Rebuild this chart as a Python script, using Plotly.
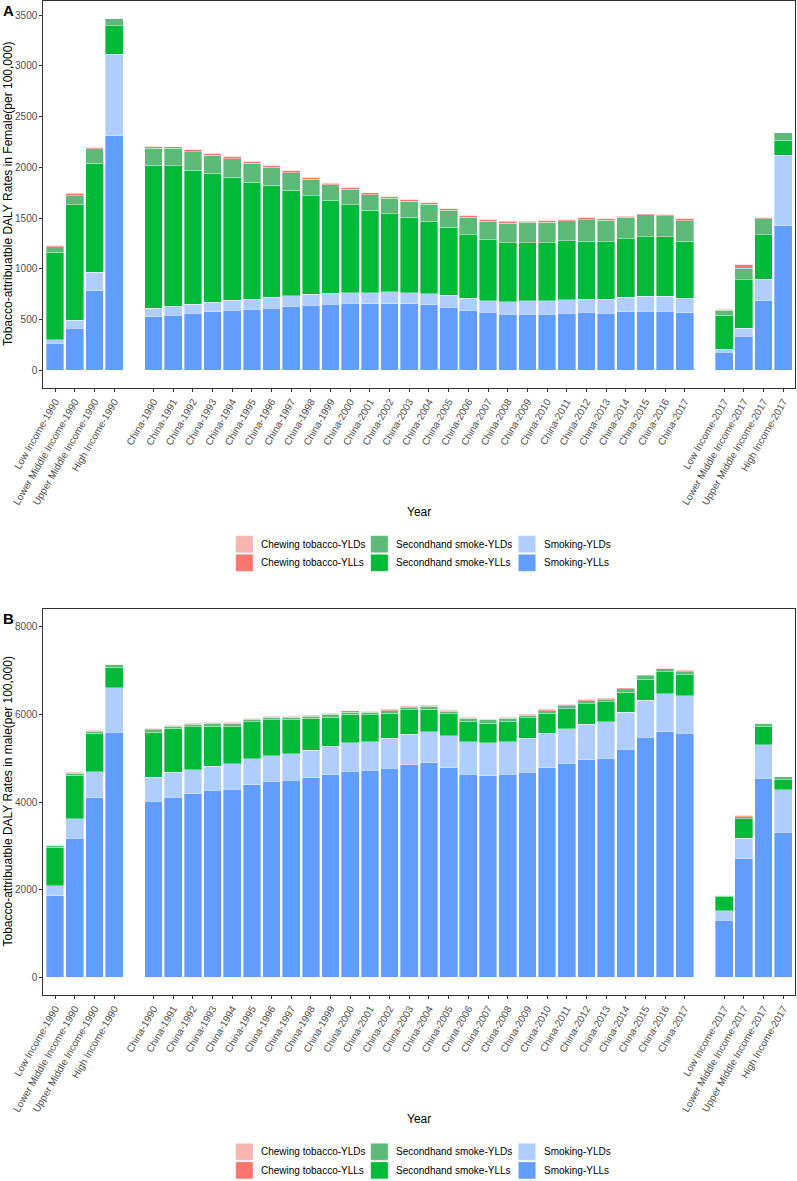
import plotly.graph_objects as go

W, H = 797, 1181

income_1990 = ["Low Income-1990", "Lower Middle Income-1990", "Upper Middle Income-1990", "High Income-1990"]
china_years = list(range(1990, 2018))
china = ["China-%d" % y for y in china_years]
income_2017 = ["Low Income-2017", "Lower Middle Income-2017", "Upper Middle Income-2017", "High Income-2017"]

series_names = ["Chewing tobacco-YLDs", "Chewing tobacco-YLLs",
                "Secondhand smoke-YLDs", "Secondhand smoke-YLLs",
                "Smoking-YLDs", "Smoking-YLLs"]
series_colors = ["#F8B5B0", "#F8766D", "#5DB977", "#00BA38", "#B0CDFF", "#619CFF"]

# Female (panel A)
female_smoking_ylls = [269, 417, 785, 2311,
                       529, 545, 561, 578, 594, 601, 611, 627, 640, 650, 663, 657, 657, 657,
                       647, 624, 591, 571, 555, 555, 555, 561, 571, 561, 578, 584, 584, 568,
                       181, 335, 686, 1425]
female_smoking_ylds = [33, 75, 180, 802,
                       85, 85, 89, 92, 99, 102, 108, 108, 109, 112, 102, 108, 118, 108,
                       108, 118, 118, 115, 121, 131, 131, 135, 132, 142, 141, 145, 145, 141,
                       29, 79, 214, 696]
female_shs_ylls = [860, 1140, 1074, 282,
                   1409, 1386, 1323, 1274, 1211, 1149, 1106, 1041, 971, 913, 867, 811, 768, 742,
                   713, 667, 627, 604, 582, 572, 572, 581, 571, 565, 578, 588, 588, 565,
                   335, 479, 436, 145]
female_shs_ylds = [56, 88, 144, 72,
                   167, 171, 184, 177, 181, 190, 178, 171, 165, 154, 154, 154, 151, 161,
                   167, 167, 174, 181, 193, 200, 200, 197, 210, 213, 213, 216, 207, 200,
                   49, 112, 158, 78]
female_chew_ylls = [10, 28, 11, 0,
                    16, 15, 16, 16, 19, 16, 16, 19, 15, 16, 16, 19, 16, 16,
                    19, 19, 16, 16, 19, 12, 19, 13, 19, 12, 10, 9, 9, 19,
                    7, 34, 10, 0]
female_chew_ylds = [3, 5, 3, 0,
                    4, 4, 4, 4, 4, 4, 4, 4, 4, 4, 4, 4, 4, 4,
                    4, 4, 4, 4, 4, 4, 4, 4, 4, 4, 4, 4, 4, 4,
                    3, 5, 3, 0]

# Male (panel B)
male_smoking_ylls = [1863, 3179, 4096, 5587,
                     4020, 4111, 4187, 4263, 4293, 4392, 4460, 4498, 4551, 4627, 4703, 4726, 4772, 4848,
                     4893, 4779, 4635, 4597, 4635, 4681, 4779, 4878, 4969, 4999, 5204, 5478, 5607, 5569,
                     1300, 2708, 4546, 3307]
male_smoking_ylds = [228, 440, 593, 1023,
                     539, 562, 554, 547, 577, 592, 592, 607, 630, 646, 653, 653, 683, 698,
                     706, 737, 744, 752, 744, 774, 790, 797, 805, 828, 844, 843, 866, 858,
                     221, 463, 757, 972]
male_shs_ylls = [881, 995, 881, 463,
                 1033, 1003, 973, 919, 859, 844, 822, 769, 723, 661, 639, 609, 570, 555,
                 517, 494, 457, 449, 457, 464, 456, 456, 471, 456, 455, 479, 502, 479,
                 326, 448, 427, 228]
male_shs_ylds = [31, 45, 46, 68,
                 53, 46, 61, 61, 61, 53, 53, 53, 53, 61, 46, 53, 61, 53,
                 68, 61, 68, 76, 68, 61, 61, 68, 61, 53, 76, 76, 60, 69,
                 16, 46, 60, 68]
male_chew_ylls = [10, 25, 16, 0,
                  25, 24, 24, 24, 24, 17, 24, 24, 25, 24, 39, 24, 32, 32,
                  25, 24, 24, 16, 24, 24, 32, 25, 32, 32, 24, 24, 17, 31,
                  9, 24, 9, 0]
male_chew_ylds = [6, 6, 6, 0,
                  6, 6, 6, 6, 6, 6, 6, 6, 6, 6, 6, 6, 6, 6,
                  6, 6, 6, 6, 6, 6, 6, 6, 6, 6, 6, 6, 6, 6,
                  6, 6, 6, 0]


def xp(px):
    return px / W


def yp(py):
    return 1 - py / H


cats = income_1990 + china + income_2017
cat_order = income_1990 + [" "] + china + ["  "] + income_2017

panels = [
    dict(ax="", data=[female_chew_ylds, female_chew_ylls, female_shs_ylds, female_shs_ylls,
                      female_smoking_ylds, female_smoking_ylls],
         top=1, bottom=388, yrange=[-173.4, 3640], dtick=500, letter="A",
         ytitle="Tobacco-attribuatble DALY Rates in Female(per 100,000)",
         year_y=511.7, leg_y=535.7),
    dict(ax="2", data=[male_chew_ylds, male_chew_ylls, male_shs_ylds, male_shs_ylls,
                       male_smoking_ylds, male_smoking_ylls],
         top=609, bottom=995, yrange=[-400, 8400], dtick=2000, letter="B",
         ytitle="Tobacco-attribuatble DALY Rates in male(per 100,000)",
         year_y=1119, leg_y=1143.3),
]

fig = go.Figure()
annotations = []
shapes = []
font_name = "Liberation Sans, Arial"
tick_font = dict(family=font_name, size=10, color="#4D4D4D")

for p in panels:
    # stack from the bottom: smoking YLLs first
    for i in reversed(range(len(series_names))):
        fig.add_trace(go.Bar(
            x=cats, y=p["data"][i], name=series_names[i],
            marker=dict(color=series_colors[i], line=dict(color="rgba(255,255,255,0.6)", width=0.6)),
            xaxis="x" + p["ax"], yaxis="y" + p["ax"], showlegend=False,
        ))

    axis_common = dict(showline=True, mirror=True, linecolor="#333333", linewidth=1,
                       showgrid=False, zeroline=False, ticks="outside", ticklen=3,
                       tickcolor="#333333", tickwidth=1, tickfont=tick_font, automargin=False)
    fig.update_layout(**{
        "xaxis" + p["ax"]: dict(axis_common, domain=[xp(43.3), xp(795)],
                                type="category", categoryorder="array", categoryarray=cat_order,
                                tickvals=cats, ticktext=cats, tickangle=-60,
                                range=[-0.6, len(cat_order) - 0.4],
                                anchor="y" + p["ax"]),
        "yaxis" + p["ax"]: dict(axis_common, domain=[yp(p["bottom"]), yp(p["top"])],
                                range=p["yrange"], dtick=p["dtick"], tick0=0,
                                anchor="x" + p["ax"]),
    })

    mid = (p["top"] + p["bottom"]) / 2
    annotations.append(dict(xref="paper", yref="paper", x=xp(7.5), y=yp(mid),
                            xanchor="center", yanchor="middle",
                            text=p["ytitle"], textangle=-90, showarrow=False,
                            font=dict(family=font_name, size=12, color="black")))
    annotations.append(dict(xref="paper", yref="paper", x=xp(419), y=yp(p["year_y"]),
                            xanchor="center", yanchor="middle",
                            text="Year", showarrow=False,
                            font=dict(family=font_name, size=12, color="black")))
    annotations.append(dict(xref="paper", yref="paper", x=xp(1), y=yp(p["top"] - 1),
                            xanchor="left", yanchor="top", text="<b>%s</b>" % p["letter"],
                            showarrow=False,
                            font=dict(family=font_name, size=15, color="black")))

    # legend: three columns, two rows
    col_x = [235.7, 370.7, 518.3]
    for i, (name, color) in enumerate(zip(series_names, series_colors)):
        kx = col_x[i // 2]
        ky = p["leg_y"] + (i % 2) * 18.6
        shapes.append(dict(type="rect", xref="paper", yref="paper",
                           x0=xp(kx), x1=xp(kx + 17.4), y0=yp(ky + 17), y1=yp(ky),
                           fillcolor=color, line=dict(width=0.6, color="rgba(255,255,255,0.6)")))
        annotations.append(dict(xref="paper", yref="paper", x=xp(kx + 23.5), y=yp(ky + 8.5),
                                xanchor="left", yanchor="middle", text=name, showarrow=False,
                                font=dict(family=font_name, size=10, color="black")))

fig.update_layout(
    width=W, height=H,
    margin=dict(l=0, r=0, t=0, b=0),
    barmode="stack", bargap=0.1,
    plot_bgcolor="white", paper_bgcolor="white",
    showlegend=False,
    annotations=annotations,
    shapes=shapes,
)

fig.write_html("out.html", config={"displayModeBar": False},
               post_script="document.body.style.margin='0';")
